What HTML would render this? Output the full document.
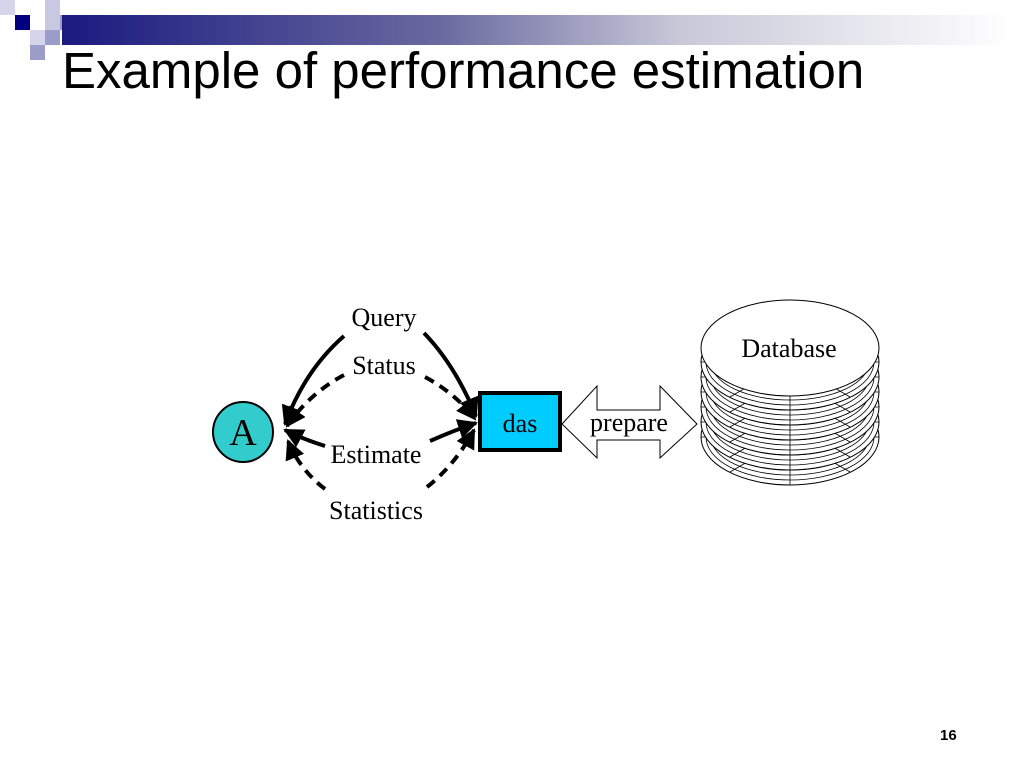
<!DOCTYPE html>
<html><head><meta charset="utf-8"><style>
body{margin:0;width:1024px;height:768px;background:#fff;overflow:hidden;position:relative;font-family:"Liberation Sans",sans-serif}
.sq{position:absolute;width:15px;height:15px}
</style></head><body>
<div class="sq" style="left:0;top:0;background:#d4d4ea"></div>
<div class="sq" style="left:45px;top:0;background:#c8c8e2"></div>
<div class="sq" style="left:15px;top:15px;background:#000080"></div>
<div class="sq" style="left:45px;top:15px;background:#c8c8e2"></div>
<div class="sq" style="left:60px;top:15px;background:#9c9cc8"></div>
<div class="sq" style="left:30px;top:30px;background:#d4d4ea"></div>
<div class="sq" style="left:45px;top:30px;background:#9c9cc8"></div>
<div class="sq" style="left:30px;top:45px;background:#9c9cc8"></div>
<div style="position:absolute;left:62px;top:15px;width:950px;height:30px;background:linear-gradient(to right,#1a1a80,#6a6aa0 40%,#c8c8d8 65%,#fff)"></div>
<div style="position:absolute;left:62px;top:41px;font-size:51px;color:#000;white-space:nowrap">Example of performance estimation</div>
<div style="position:absolute;left:940px;top:727px;font-size:15px;font-weight:bold">16</div>
<svg width="1024" height="768" style="position:absolute;left:0;top:0" font-family="Liberation Serif, serif">
<defs>
<marker id="ah" viewBox="0 0 10 10" refX="9" refY="5" markerWidth="5" markerHeight="5" orient="auto"><path d="M0,0 L10,5 L0,10 z" fill="#000"/></marker>
<g id="disk">
<ellipse cx="0" cy="0" rx="89" ry="48" fill="#fff" stroke="#000"/>
<ellipse cx="0" cy="0" rx="84" ry="43" fill="none" stroke="#000" stroke-width="0.8"/>
<ellipse cx="0" cy="0" rx="79" ry="38" fill="none" stroke="#000" stroke-width="0.8"/>
<ellipse cx="0" cy="0" rx="74" ry="33" fill="none" stroke="#000" stroke-width="0.8"/>
<path d="M0,0 V48 M0,0 L-60,35 M0,0 L60,35 M0,0 L-89,0 M0,0 L89,0" stroke="#000" stroke-width="0.8"/>
</g>
</defs>
<use href="#disk" x="790" y="437"/>
<use href="#disk" x="790" y="422"/>
<use href="#disk" x="790" y="407"/>
<use href="#disk" x="790" y="392"/>
<use href="#disk" x="790" y="377"/>
<use href="#disk" x="790" y="362"/>
<ellipse cx="790" cy="348" rx="89" ry="48" fill="#fff" stroke="#000"/>
<text x="789" y="357" font-size="26" text-anchor="middle">Database</text>
<path d="M562,424 L597,386 L597,410 L660,410 L660,386 L697,424 L660,458 L660,440 L597,440 L597,458 Z" fill="#fff" stroke="#000"/>
<text x="629" y="431" font-size="26" text-anchor="middle">prepare</text>
<rect x="480" y="393" width="80" height="57" fill="#00ccff" stroke="#000" stroke-width="4"/>
<text x="520" y="432" font-size="26" text-anchor="middle">das</text>
<circle cx="243" cy="432" r="30" fill="#33cccc" stroke="#000" stroke-width="2"/>
<text x="243" y="445" font-size="38" text-anchor="middle">A</text>
<g fill="none" stroke="#000" stroke-width="4">
<path d="M344,336 Q305,370 285,424" marker-end="url(#ah)"/>
<path d="M424,333 Q455,365 476,416" marker-end="url(#ah)"/>
<path d="M344,375 Q310,393 287,426" stroke-dasharray="10,7" marker-end="url(#ah)"/>
<path d="M425,377 Q455,393 475,419" stroke-dasharray="10,7" marker-end="url(#ah)"/>
<path d="M325,446 Q300,438 285,430" marker-end="url(#ah)"/>
<path d="M430,441 Q455,430 476,423" marker-end="url(#ah)"/>
<path d="M325,489 Q300,470 288,441" stroke-dasharray="10,7" marker-end="url(#ah)"/>
<path d="M427,487 Q455,465 474,430" stroke-dasharray="10,7" marker-end="url(#ah)"/>
</g>
<g font-size="26" text-anchor="middle">
<text x="384" y="326">Query</text>
<text x="384" y="374">Status</text>
<text x="376" y="463">Estimate</text>
<text x="376" y="519">Statistics</text>
</g>
</svg>
</body></html>
